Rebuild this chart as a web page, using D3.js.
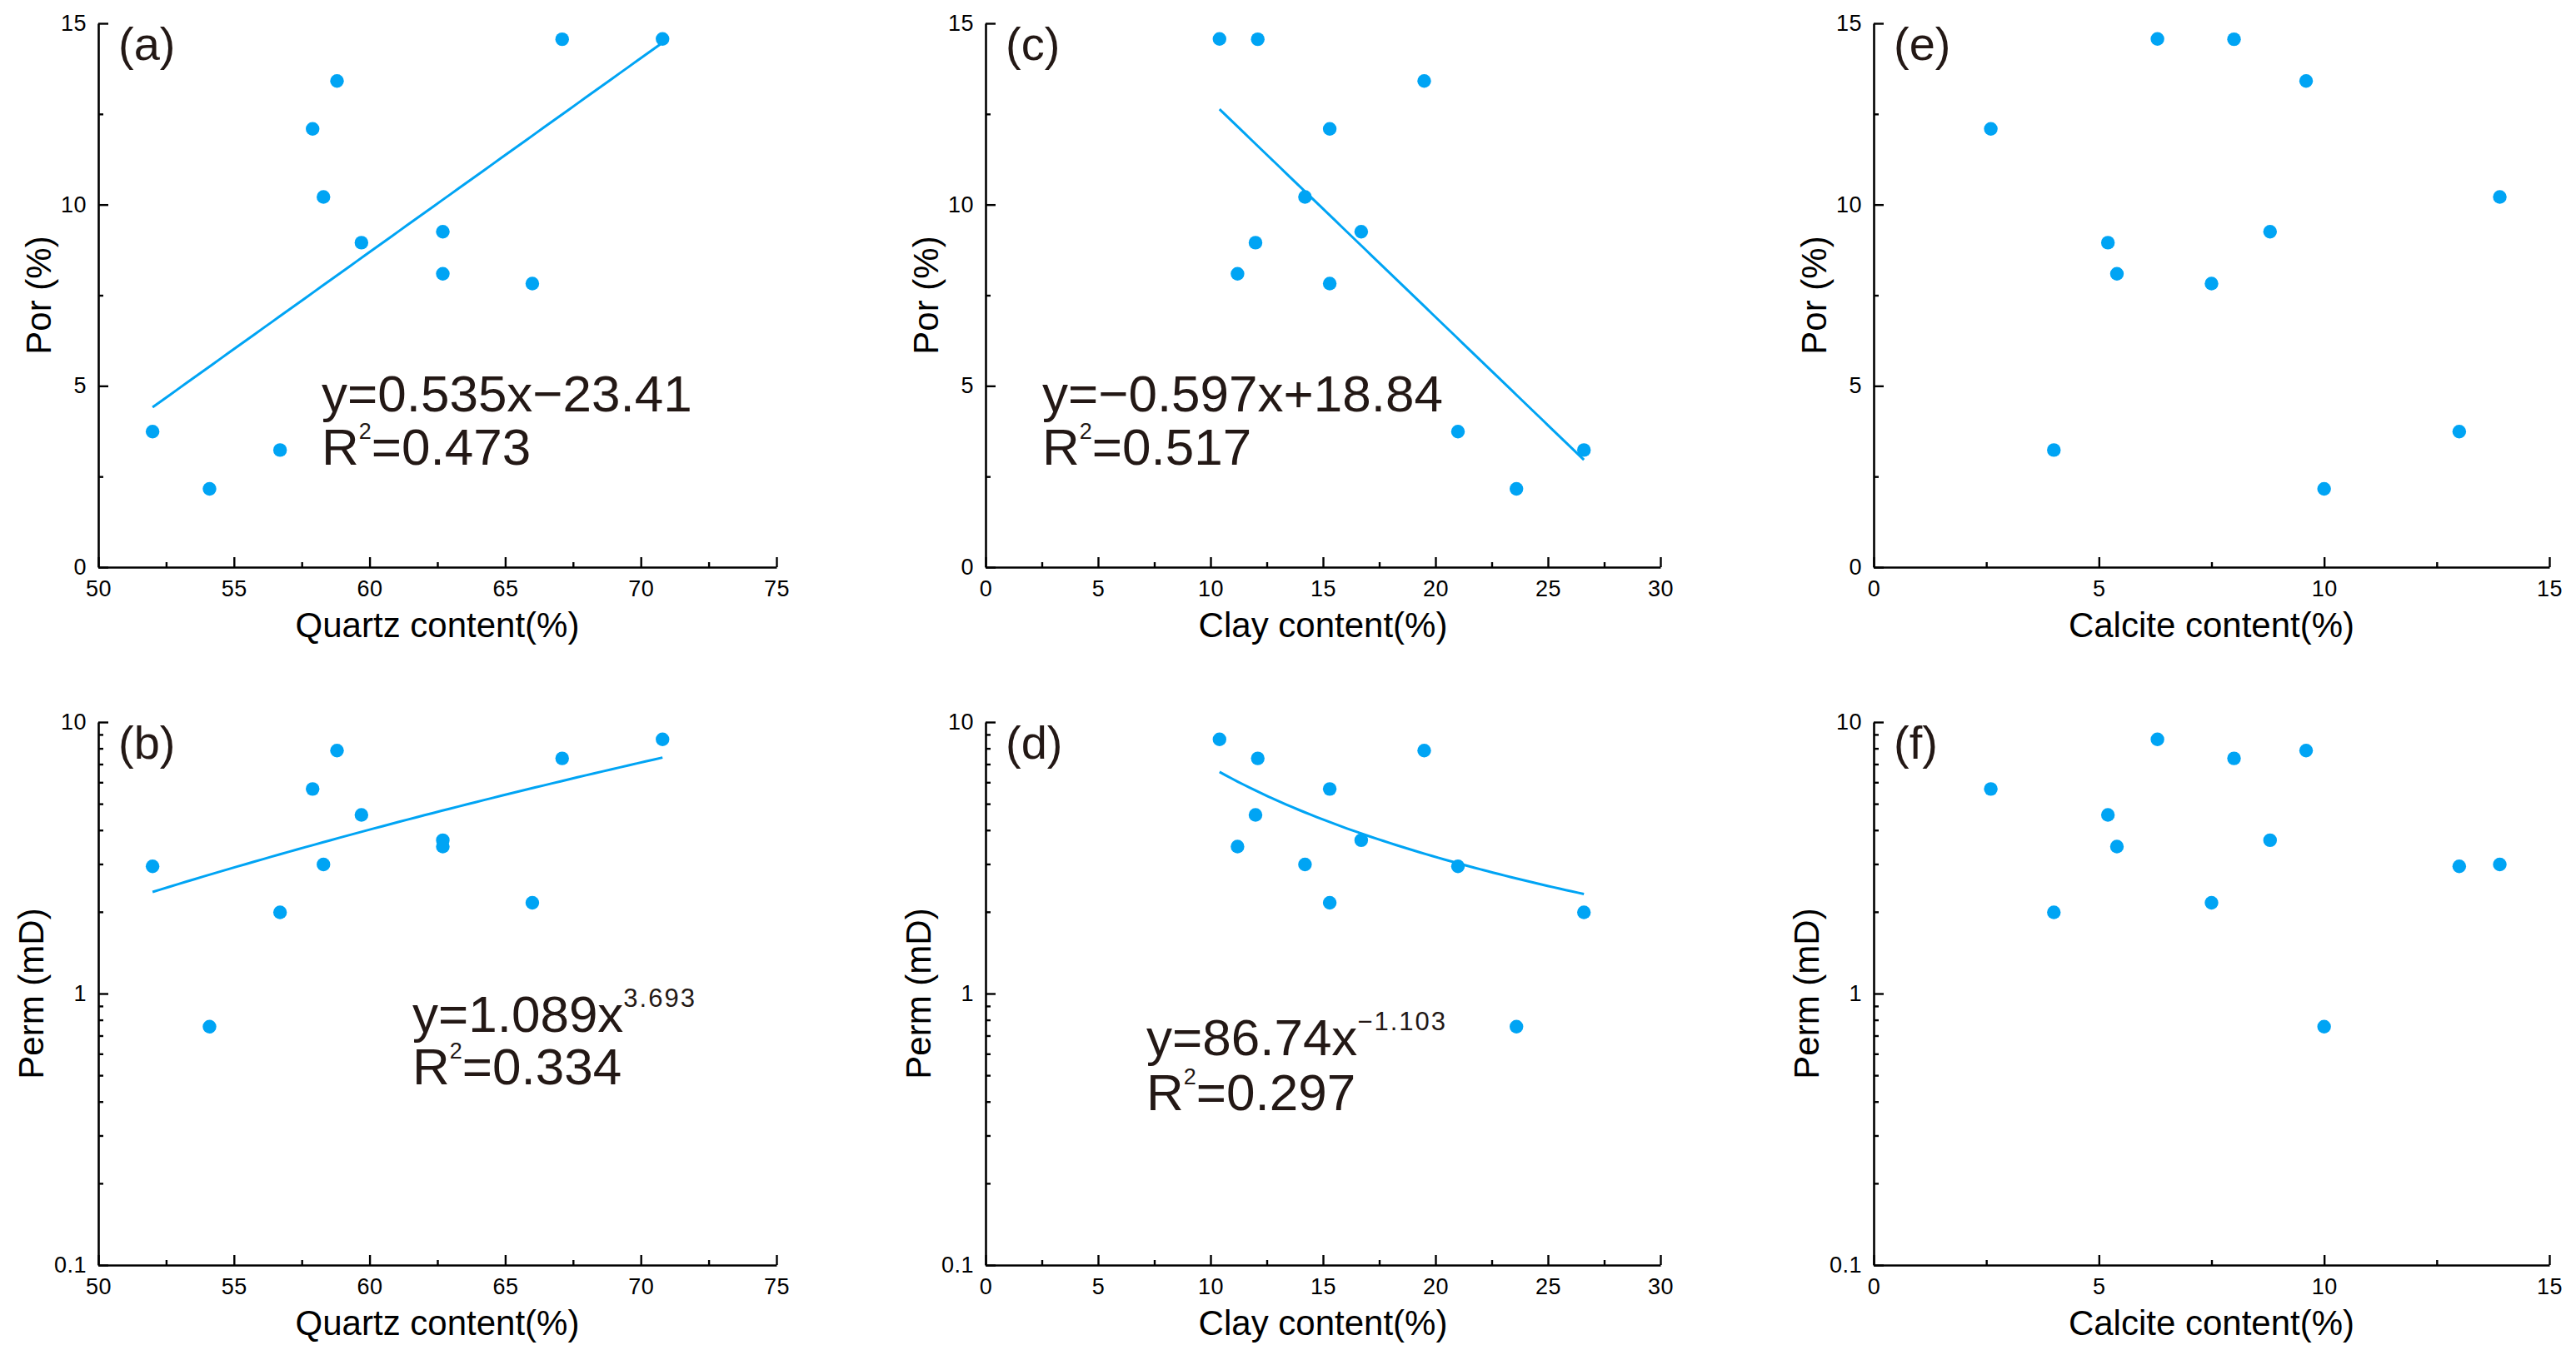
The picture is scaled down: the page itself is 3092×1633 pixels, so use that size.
<!DOCTYPE html>
<html><head><meta charset="utf-8">
<script src="https://cdn.jsdelivr.net/npm/d3@7"></script>
<style>
body{margin:0;background:#fff}
svg{display:block}
text{font-family:"Liberation Sans",Arial,sans-serif}
</style>
</head><body>
<svg id="chart" width="3092" height="1633"></svg>
<script>
// ---- data (one entry per sample) ----
const quartz       = [70.8, 67.1, 58.8, 57.9, 58.3, 59.7, 62.7, 62.7, 66.0, 52.0, 56.7, 54.1];
const clay         = [10.4, 12.1, 19.5, 15.3, 14.2, 12.0, 16.7, 11.2, 15.3, 21.0, 26.6, 23.6];
const calcite      = [6.3, 8.0, 9.6, 2.6, 13.9, 5.2, 8.8, 5.4, 7.5, 13.0, 4.0, 10.0];
const porosity     = [14.57, 14.56, 13.41, 12.09, 10.21, 8.95, 9.25, 8.09, 7.82, 3.74, 3.23, 2.16];
const permeability = [8.64, 7.35, 7.85, 5.67, 2.99, 4.55, 3.67, 3.48, 2.16, 2.94, 1.99, 0.755];

// ---- axis tick values ----
const quartzTicks  = [50, 55, 60, 65, 70, 75];
const clayTicks    = [0, 5, 10, 15, 20, 25, 30];
const calciteTicks = [0, 5, 10, 15];
const porTicks     = [0, 5, 10, 15];
const permTicks    = [0.1, 1, 10];

// ---- fitted trend equations shown on the chart ----
const fitA = {type: "linear", a: 0.535, b: -23.41, eq: "y=0.535x\u221223.41", r2: "0.473"};
const fitB = {type: "power", a: 1.089e-6, b: 3.693, eq: "y=1.089x", sup: "3.693", r2: "0.334"};
const fitC = {type: "linear", a: -0.597, b: 18.84, eq: "y=\u22120.597x+18.84", r2: "0.517"};
const fitD = {type: "power", a: 86.74, b: -1.103, eq: "y=86.74x", sup: "\u22121.103", r2: "0.297"};

const BLUE = "#00a4f4";
const DARK = "#231815";

const cols = [{x0: 118, x1: 932}, {x0: 1183, x1: 1993}, {x0: 2249, x1: 3060}];
const rows = [{y0: 28, y1: 681}, {y0: 867, y1: 1519}];

const panels = [
  {label: "(a)", col: 0, row: 0, x: quartz, y: porosity, xd: [50, 75], xt: quartzTicks, xTitle: "Quartz content(%)", fit: fitA, eqPos: [268, 466, 530]},
  {label: "(b)", col: 0, row: 1, x: quartz, y: permeability, xd: [50, 75], xt: quartzTicks, xTitle: "Quartz content(%)", fit: fitB, eqPos: [377, 372, 435]},
  {label: "(c)", col: 1, row: 0, x: clay, y: porosity, xd: [0, 30], xt: clayTicks, xTitle: "Clay content(%)", fit: fitC, eqPos: [68, 466, 530]},
  {label: "(d)", col: 1, row: 1, x: clay, y: permeability, xd: [0, 30], xt: clayTicks, xTitle: "Clay content(%)", fit: fitD, eqPos: [193, 400, 466]},
  {label: "(e)", col: 2, row: 0, x: calcite, y: porosity, xd: [0, 15], xt: calciteTicks, xTitle: "Calcite content(%)", fit: null},
  {label: "(f)", col: 2, row: 1, x: calcite, y: permeability, xd: [0, 15], xt: calciteTicks, xTitle: "Calcite content(%)", fit: null}
];

const svg = d3.select("#chart");

function styleAxis(g) {
  g.selectAll("path.domain").attr("stroke", "#000").attr("stroke-width", 2.6);
  g.selectAll(".tick line").attr("stroke", "#000").attr("stroke-width", 2.4);
  g.selectAll(".tick text").attr("font-size", 27).attr("fill", "#000")
    .attr("font-family", '"Liberation Sans",Arial,sans-serif').attr("letter-spacing", 0.5);
}

panels.forEach(p => {
  const c = cols[p.col], r = rows[p.row];
  const isLog = p.row === 1;
  const x = d3.scaleLinear().domain(p.xd).range([c.x0, c.x1]);
  const y = isLog ? d3.scaleLog().domain([0.1, 10]).range([r.y1, r.y0])
                  : d3.scaleLinear().domain([0, 15]).range([r.y1, r.y0]);
  const g = svg.append("g");

  // x minor ticks
  const xStep = p.xt[1] - p.xt[0];
  const xMinor = p.xt.slice(0, -1).map(v => v + xStep / 2);
  g.append("g").attr("transform", `translate(0,${r.y1})`)
    .call(d3.axisBottom(x).tickValues(xMinor).tickSize(-6).tickFormat(""))
    .call(styleAxis).select("path.domain").remove();
  // x major
  g.append("g").attr("transform", `translate(0,${r.y1})`)
    .call(d3.axisBottom(x).tickValues(p.xt).tickSizeInner(-12).tickSizeOuter(0).tickPadding(16).tickFormat(d3.format("d")))
    .call(styleAxis);

  // y ticks
  let yMinor, yFmt;
  if (isLog) {
    yMinor = [];
    [0.1, 1].forEach(dec => { for (let k = 2; k <= 9; k++) yMinor.push(dec * k); });
    yFmt = d => (d < 1 ? d.toFixed(1) : String(d));
  } else {
    yMinor = porTicks.slice(0, -1).map(v => v + 2.5);
    yFmt = d3.format("d");
  }
  g.append("g").attr("transform", `translate(${c.x0},0)`)
    .call(d3.axisLeft(y).tickValues(yMinor).tickSize(-6).tickFormat(""))
    .call(styleAxis).select("path.domain").remove();
  g.append("g").attr("transform", `translate(${c.x0},0)`)
    .call(d3.axisLeft(y).tickValues(isLog ? permTicks : porTicks).tickSizeInner(-12).tickSizeOuter(0).tickPadding(14).tickFormat(yFmt))
    .call(styleAxis);

  // titles
  g.append("text").attr("x", (c.x0 + c.x1) / 2).attr("y", r.y1 + 84)
    .attr("text-anchor", "middle").attr("font-size", 42).attr("fill", "#000").text(p.xTitle);
  const yx = c.x0 - (isLog ? 66 : 57);
  const yy = (r.y0 + r.y1) / 2;
  g.append("text").attr("transform", `translate(${yx},${yy}) rotate(-90)`)
    .attr("text-anchor", "middle").attr("font-size", 42).attr("fill", "#000")
    .text(isLog ? "Perm (mD)" : "Por (%)");

  // panel label
  g.append("text").attr("x", c.x0 + 24).attr("y", r.y0 + 44)
    .attr("font-size", 56).attr("fill", DARK).text(p.label);

  // fit line
  if (p.fit) {
    const f = p.fit;
    const [lo, hi] = d3.extent(p.x);
    const xs = d3.range(0, 61).map(i => lo + (hi - lo) * i / 60);
    const fy = v => f.type === "linear" ? f.a * v + f.b : f.a * Math.pow(v, f.b);
    g.append("path").datum(xs)
      .attr("d", d3.line().x(v => x(v)).y(v => y(fy(v))))
      .attr("fill", "none").attr("stroke", BLUE).attr("stroke-width", 3);

    const ex = c.x0 + p.eqPos[0];
    const t1 = g.append("text").attr("x", ex).attr("y", r.y0 + p.eqPos[1])
      .attr("font-size", 62).attr("fill", DARK);
    t1.append("tspan").text(f.eq);
    if (f.sup) t1.append("tspan").attr("font-size", 31).attr("dy", -30).attr("letter-spacing", 2).text(f.sup);
    const t2 = g.append("text").attr("x", ex).attr("y", r.y0 + p.eqPos[2])
      .attr("font-size", 62).attr("fill", DARK);
    t2.append("tspan").text("R");
    t2.append("tspan").attr("font-size", 27).attr("dy", -31).text("2");
    t2.append("tspan").attr("dy", 31).text("=" + f.r2);
  }

  // points
  g.append("g").selectAll("circle").data(p.x.map((v, i) => [v, p.y[i]])).join("circle")
    .attr("cx", d => x(d[0])).attr("cy", d => y(d[1])).attr("r", 8.2).attr("fill", BLUE);
});
</script>
</body></html>
